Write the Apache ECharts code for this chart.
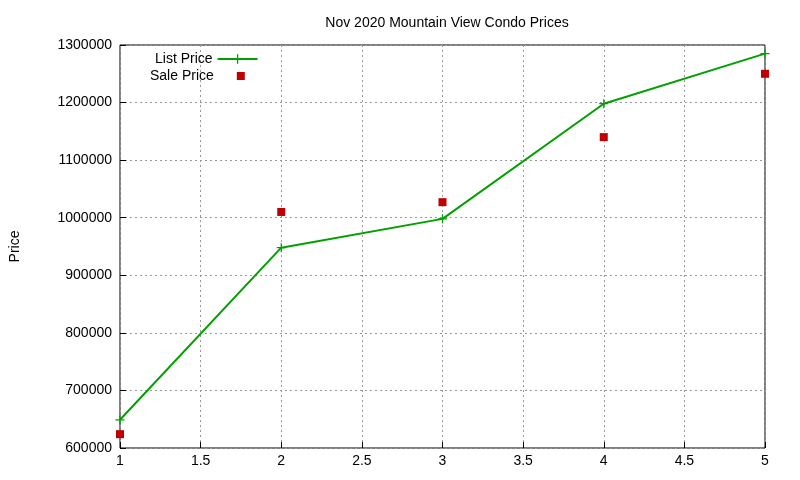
<!DOCTYPE html>
<html><head><meta charset="utf-8">
<script src="https://cdn.jsdelivr.net/npm/echarts@6/dist/echarts.min.js"></script>
<style>html,body{margin:0;background:#fff}#c{width:800px;height:480px}</style>
</head><body><div id="c"></div>
<script>
var xs = [1, 2, 3, 4, 5];
var listPrice = [649000, 948000, 998000, 1198000, 1285000];
var salePrice = [624000, 1010000, 1027000, 1140000, 1250000];
var chart = echarts.init(document.getElementById('c'));
var font = 'Liberation Sans';
var plus = 'path://M4.3,0H5.7V4.3H10V5.7H5.7V10H4.3V5.7H0V4.3H4.3Z';
chart.setOption({
  animation: false,
  textStyle: {fontFamily: font},
  title: {text: 'Nov 2020 Mountain View Condo Prices', left: 442, top: 11, textAlign: 'center',
    textStyle: {fontSize: 14, fontWeight: 'normal', color: '#000', fontFamily: font}},
  grid: {left: 119, right: 35, top: 45, bottom: 32, show: true, borderColor: '#000', borderWidth: 1},
  legend: [
    {left: 150, top: 47, align: 'right', itemWidth: 40, itemHeight: 12,
      textStyle: {fontSize: 14, color: '#000', fontFamily: font},
      data: ['List Price']},
    {left: 145, top: 64, align: 'right', itemWidth: 8, itemHeight: 8, itemGap: 0,
      textStyle: {fontSize: 14, color: '#000', fontFamily: font, padding: [0, 18, 0, 0]},
      data: [{name: 'Sale Price', icon: 'rect'}]}
  ],
  xAxis: {type: 'value', min: 1, max: 5, interval: 0.5,
    axisLine: {show: false}, axisTick: {inside: true, length: 6, lineStyle: {color: '#000'}},
    axisLabel: {color: '#000', fontSize: 14, margin: 6},
    splitLine: {lineStyle: {color: '#999', type: [2, 3]}}},
  yAxis: {type: 'value', min: 600000, max: 1300000, interval: 100000,
    name: 'Price', nameLocation: 'middle', nameGap: 98, nameTextStyle: {color: '#000', fontSize: 14},
    axisLine: {show: false}, axisTick: {inside: true, length: 6, lineStyle: {color: '#000'}},
    axisLabel: {color: '#000', fontSize: 14, margin: 8, formatter: function (v) { return String(v); }},
    splitLine: {lineStyle: {color: '#999', type: [2, 3]}}},
  series: [
    {name: 'List Price', type: 'line', data: xs.map(function (x, i) { return [x, listPrice[i]]; }),
      symbol: plus, symbolSize: 9, showAllSymbol: true,
      itemStyle: {color: '#00a000'}, lineStyle: {color: '#00a000', width: 2}},
    {name: 'Sale Price', type: 'scatter', data: xs.map(function (x, i) { return [x, salePrice[i]]; }),
      symbol: 'rect', symbolSize: 8, itemStyle: {color: '#c00000', opacity: 1}}
  ]
});
</script></body></html>
